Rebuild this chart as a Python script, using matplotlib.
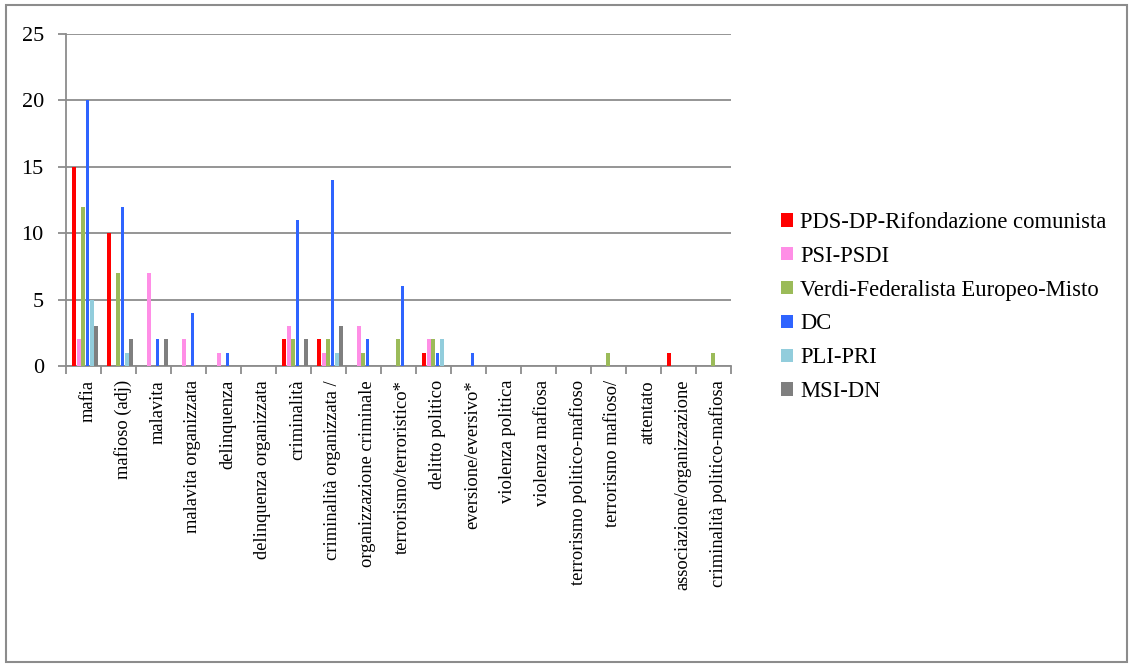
import numpy as np
import matplotlib.pyplot as plt
from matplotlib.patches import Rectangle

categories = ["mafia", "mafioso (adj)", "malavita", "malavita organizzata", "delinquenza",
              "delinquenza organizzata", "criminalità", "criminalità organizzata /",
              "organizzazione criminale", "terrorismo/terroristico*", "delitto politico",
              "eversione/eversivo*", "violenza politica", "violenza mafiosa",
              "terrorismo politico-mafioso", "terrorismo mafioso/", "attentato",
              "associazione/organizzazione", "criminalità politico-mafiosa"]

series_names = ["PDS-DP-Rifondazione comunista", "PSI-PSDI", "Verdi-Federalista Europeo-Misto",
                "DC", "PLI-PRI", "MSI-DN"]
colors = ["#ff0000", "#ff8ee6", "#9bbb59", "#2f64ff", "#92cddc", "#7f7f7f"]

pds = [15, 10, 0, 0, 0, 0, 2, 2, 0, 0, 1, 0, 0, 0, 0, 0, 0, 1, 0]
psi = [2, 0, 7, 2, 1, 0, 3, 1, 3, 0, 2, 0, 0, 0, 0, 0, 0, 0, 0]
verdi = [12, 7, 0, 0, 0, 0, 2, 2, 1, 2, 2, 0, 0, 0, 0, 1, 0, 0, 1]
dc = [20, 12, 2, 4, 1, 0, 11, 14, 2, 6, 1, 1, 0, 0, 0, 0, 0, 0, 0]
pli = [5, 1, 0, 0, 0, 0, 0, 1, 0, 0, 2, 0, 0, 0, 0, 0, 0, 0, 0]
msi = [3, 2, 2, 0, 0, 0, 2, 3, 0, 0, 0, 0, 0, 0, 0, 0, 0, 0, 0]
values = [pds, psi, verdi, dc, pli, msi]

plt.rcParams['font.family'] = ['Liberation Serif', 'DejaVu Serif']
fig = plt.figure(figsize=(11.3, 6.7), dpi=100)
ax = fig.add_axes([66 / 1130, 1 - 366 / 670, 665 / 1130, 332 / 670])

x = np.arange(len(categories))
w = 0.125
for i, (name, vals, c) in enumerate(zip(series_names, values, colors)):
    ax.bar(x + (i - 2.5) * w + 0.05, vals, width=w * 0.85, color=c, label=name, zorder=3)

ax.set_xlim(-0.5, len(categories) - 0.5)
ax.set_ylim(0, 25)
ax.set_yticks(range(0, 26, 5))
ax.yaxis.grid(True, color="#8c8c8c", linewidth=1.3, zorder=0)
ax.set_xticks(x + 0.12)
ax.set_xticklabels(categories, rotation=90, fontsize=13.3)
ax.set_xticks(np.arange(-0.5, len(categories), 1), minor=True)
ax.tick_params(axis="x", which="major", length=0, pad=10)
ax.tick_params(axis="x", which="minor", length=6, color="#8c8c8c", width=1.3)
ax.tick_params(axis="y", length=6, color="#8c8c8c", width=1.3, labelsize=16, pad=10)
for s in ["top", "right"]:
    ax.spines[s].set_visible(False)
for s in ["left", "bottom"]:
    ax.spines[s].set_color("#8c8c8c")
    ax.spines[s].set_linewidth(1.3)

fig.legend(loc="center left", bbox_to_anchor=(781 / 1130, 1 - 307 / 670), frameon=False, fontsize=16.3,
           handlelength=0.55, handleheight=0.55, handletextpad=0.3, labelspacing=0.57,
           borderpad=0, borderaxespad=0)

fig.patches.append(Rectangle((6 / 1130, 8 / 670), 1121 / 1130, 657 / 670, transform=fig.transFigure,
                             fill=False, edgecolor="#8c8c8c", linewidth=1.5))

fig.savefig("out.png", dpi=100)
